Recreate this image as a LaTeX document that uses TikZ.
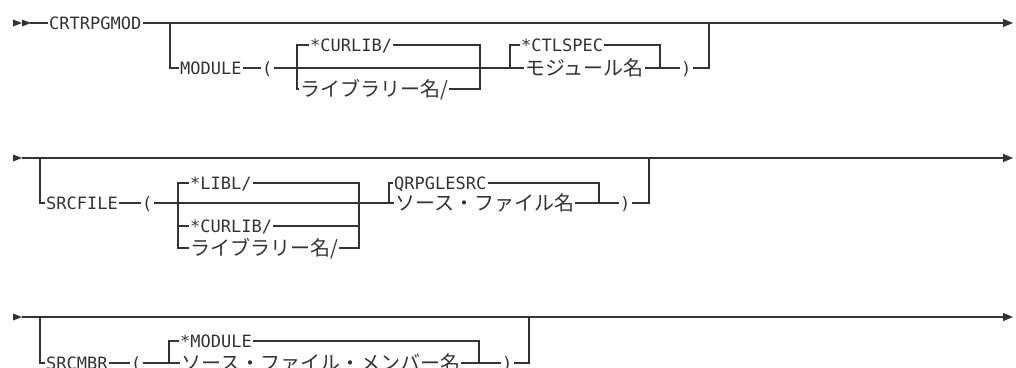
\documentclass[tikz,border=0pt]{standalone}
\usepackage{fontspec}
\setmonofont{DejaVu Sans Mono}
\newfontfamily\jpfont{Noto Sans CJK JP}
\usepackage{xcolor}
\usetikzlibrary{arrows.meta,positioning}
\definecolor{railgray}{gray}{0.2}
\tikzset{railhead/.pic={\fill[railgray] (0,-3.5) -- (9,0) -- (0,3.5) -- cycle;}}

\begin{document}
\begin{tikzpicture}[x=1pt,y=-1pt,
    rail/.style={draw=railgray,line width=1.2pt},
    kw/.style={anchor=west,inner xsep=1pt,inner ysep=0pt,text height=12.4pt,text depth=0pt,
               text=railgray,font=\fontsize{17}{17}\selectfont\ttfamily},
    jp/.style={anchor=west,inner xsep=1pt,inner ysep=0pt,text height=15pt,text depth=0pt,
               text=railgray,font=\fontsize{20}{20}\selectfont\jpfont},
    railend/.style={-{Triangle[length=10pt,width=8pt]}}]
  \useasboundingbox (0,0) rectangle (1016,367);

  % CRTRPGMOD / MODULE
  \pic at (13,23) {railhead};
  \pic at (22,23) {railhead};
  \coordinate (s1) at (30,23);
  \coordinate (e1) at (1013,23);
  \node[kw] (crtrpgmod) at (48,23) {CRTRPGMOD};
  \draw[rail] (s1) -- (crtrpgmod.west);
  \draw[rail,railend] (crtrpgmod.east) -- (e1);
  \coordinate (b1) at (170,23);
  \node[kw] (module) at (179,68) {MODULE};
  \node[kw] (lp1) at (261,68) {(};
  \node[kw] (curlib1) at (309,45) {*CURLIB/};
  \node[jp] (lib1) at (299,89) {ライブラリー名/};
  \node[kw] (ctlspec) at (520,45) {*CTLSPEC};
  \node[jp] (modname) at (524,68) {モジュール名};
  \node[kw] (rp1) at (680,68) {)};
  \coordinate (j1) at (709,23);
  \coordinate (l1) at (297,0);
  \coordinate (r1) at (480,0);
  \coordinate (l2) at (510,0);
  \coordinate (r2) at (660,0);
  \draw[rail] (b1) |- (module.west);
  \draw[rail] (module.east) -- (lp1.west);
  \draw[rail] (lp1.east) -- (modname.west);
  \draw[rail] (curlib1.west) -- (curlib1.west -| l1) |- (lib1.west);
  \draw[rail] (curlib1.east) -| (lib1.east -| r1) -- (lib1.east);
  \draw[rail] (ctlspec.west) -- (ctlspec.west -| l2) -- (modname.west -| l2);
  \draw[rail] (ctlspec.east) -| (modname.east -| r2) -- (modname.east);
  \draw[rail] (modname.east) -- (rp1.west);
  \draw[rail] (rp1.east) -| (j1);

  % SRCFILE
  \pic at (13,158) {railhead};
  \coordinate (s2) at (22,158);
  \coordinate (e2) at (1013,158);
  \draw[rail,railend] (s2) -- (e2);
  \coordinate (b2) at (40,158);
  \node[kw] (srcfile) at (45,203) {SRCFILE};
  \node[kw] (lp2) at (141,203) {(};
  \node[kw] (libl) at (189,183) {*LIBL/};
  \node[kw] (curlib2) at (189,226) {*CURLIB/};
  \node[jp] (lib2) at (189,248) {ライブラリー名/};
  \node[kw] (qrpg) at (393,183) {QRPGLESRC};
  \node[jp] (srcname) at (394,203) {ソース・ファイル名};
  \node[kw] (rp2) at (619,203) {)};
  \coordinate (j2) at (649,158);
  \coordinate (l3) at (178,0);
  \coordinate (r3) at (359,0);
  \coordinate (l4) at (389,0);
  \coordinate (r4) at (599,0);
  \draw[rail] (b2) |- (srcfile.west);
  \draw[rail] (srcfile.east) -- (lp2.west);
  \draw[rail] (lp2.east) -- (srcname.west);
  \draw[rail] (libl.west) -- (libl.west -| l3) |- (lib2.west);
  \draw[rail] (curlib2.west -| l3) -- (curlib2.west);
  \draw[rail] (libl.east) -| (lib2.east -| r3) -- (lib2.east);
  \draw[rail] (curlib2.east) -- (curlib2.east -| r3);
  \draw[rail] (qrpg.west) -- (qrpg.west -| l4) -- (srcname.west -| l4);
  \draw[rail] (qrpg.east) -| (srcname.east -| r4) -- (srcname.east);
  \draw[rail] (srcname.east) -- (rp2.west);
  \draw[rail] (rp2.east) -| (j2);

  % SRCMBR
  \pic at (13,317) {railhead};
  \coordinate (s3) at (22,317);
  \coordinate (e3) at (1013,317);
  \draw[rail,railend] (s3) -- (e3);
  \coordinate (b3) at (40,317);
  \node[kw] (srcmbr) at (45,363) {SRCMBR};
  \node[kw] (lp3) at (130,363) {(};
  \node[kw] (module3) at (179,341) {*MODULE};
  \node[jp] (mbrname) at (180,363) {ソース・ファイル・メンバー名};
  \node[kw] (rp3) at (501,363) {)};
  \coordinate (j3) at (529,317);
  \coordinate (l5) at (169,0);
  \coordinate (r5) at (479,0);
  \draw[rail] (b3) |- (srcmbr.west);
  \draw[rail] (srcmbr.east) -- (lp3.west);
  \draw[rail] (lp3.east) -- (mbrname.west);
  \draw[rail] (module3.west) -- (module3.west -| l5) -- (mbrname.west -| l5);
  \draw[rail] (module3.east) -| (mbrname.east -| r5) -- (mbrname.east);
  \draw[rail] (mbrname.east) -- (rp3.west);
  \draw[rail] (rp3.east) -| (j3);
\end{tikzpicture}
\end{document}
